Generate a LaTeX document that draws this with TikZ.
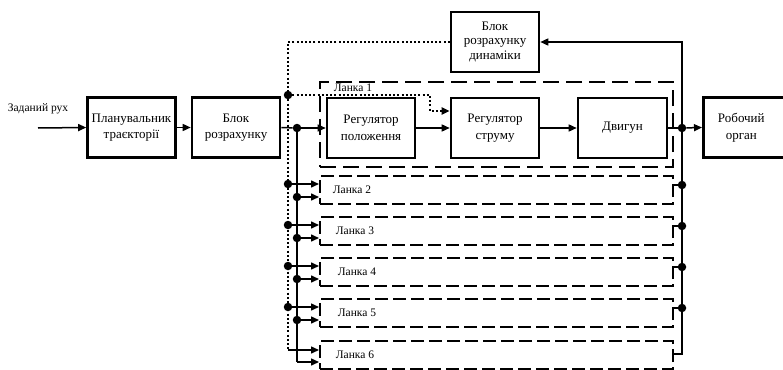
\documentclass[tikz,border=0pt]{standalone}
\usepackage{fontspec}
\setmainfont{Liberation Serif}
\usetikzlibrary{arrows.meta}
\begin{document}
\begin{tikzpicture}[x=1pt,y=-1pt,
  blk/.style={draw, line width=2.6pt, minimum width=88pt, minimum height=60pt,
    inner sep=1pt, align=center, font=\fontsize{13}{16.5}\selectfont},
  con/.style={line width=1.5pt},
  arr/.style={con, -{Triangle[length=8pt,width=7pt]}},
  dotl/.style={dash pattern=on 2pt off 2.2pt, line width=2pt},
  lbox/.style={draw, dash pattern=on 13pt off 5pt, line width=2.1pt,
    minimum width=353pt, minimum height=28pt, inner sep=0pt},
  lboxa/.style={draw, dash pattern=on 16pt off 7pt, line width=2.1pt,
    minimum width=353pt, minimum height=85pt, inner sep=0pt},
  jn/.style={circle, fill, inner sep=0pt, minimum size=8.5pt},
  lbl/.style={font=\fontsize{11.5}{13}\selectfont, inner sep=0pt}
]
\useasboundingbox (0,0) rectangle (783,369);

% blocks
\node[blk] (plan) at (131.5,127.5) {Планувальник\\траєкторії};
\node[blk] (br) at (236,127.5) {Блок\\розрахунку};
\node[blk, font=\fontsize{13}{14.5}\selectfont] (dyn) at (495,42) {Блок\\розрахунку\\динаміки};
\node[blk] (rp) at (371,128) {Регулятор\\положення};
\node[blk] (rs) at (495,128) {Регулятор\\струму};
\node[blk, minimum width=89pt] (dv) at (622.5,128) {Двигун};
\node[blk, minimum width=100pt, anchor=west] (ro) at (702,127.5)
  {\begin{tabular}{@{}c@{}}Робочий\\орган\end{tabular}\hspace*{24pt}};

% input
\coordinate (in) at (38,128);
\node[lbl] (inlbl) at (38,109) {Заданий рух};
\draw[arr] (in) -- (plan.west);
\draw[arr] (plan) -- (br);

% Lanka 1
\node[lboxa, anchor=north west] (l1) at (319,81) {};
\node[lbl] (l1t) at (353,88) {Ланка 1};

% junctions
\node[jn] (j1) at (297,128) {};
\node[jn] (d1) at (288,95) {};
\node[jn] (jo) at (682,128) {};

% main chain
\draw[con] (br.east) -- (j1);
\draw[arr] (j1) -- (rp.west);
\draw[arr] (rp) -- (rs);
\draw[arr] (rs) -- (dv);
\draw[con] (dv.east) -- (jo);
\draw[arr] (jo) -- (ro.west);
\draw[arr] (jo) |- (dyn.east);

% dotted lines
\draw[dotl] (dyn.west) -| (d1);
\draw[dotl, -{Triangle[length=8pt,width=7pt]}] (d1) -- (430,95) -- (430,111) -- ([yshift=17pt]rs.west);

% lower links
\foreach \i/\t in {2/175,3/216,4/257,5/298,6/340}{
  \node[lbox, anchor=north west] (l\i) at (319,\t) {};
}
\node[lbl] (l2t) at (352,190) {Ланка 2};
\node[lbl] (l3t) at (355,231) {Ланка 3};
\node[lbl] (l4t) at (357,272) {Ланка 4};
\node[lbl] (l5t) at (357,313) {Ланка 5};
\node[lbl] (l6t) at (355,355) {Ланка 6};

\foreach \i/\t in {2/175,3/216,4/257,5/298}{
  \node[jn] (dl\i) at (288,{\t+9}) {};
  \node[jn] (sl\i) at (297,{\t+22}) {};
  \node[jn] (rd\i) at (682,{\t+10}) {};
  \draw[arr] (dl\i) -- (dl\i -| l\i.west);
  \draw[arr] (sl\i) -- (sl\i -| l\i.west);
  \draw[con] (rd\i) -- (rd\i -| l\i.east);
}

\coordinate (db6) at (288,350);
\coordinate (sb6) at (297,362);
\coordinate (rb6) at (682,354);
\draw[dotl] (d1) -- (db6);
\draw[arr] (db6) -- (db6 -| l6.west);
\draw[con] (j1) -- (sb6);
\draw[arr] (sb6) -- (sb6 -| l6.west);
\draw[con] (jo) -- (rb6) -- (rb6 -| l6.east);
\end{tikzpicture}
\end{document}
